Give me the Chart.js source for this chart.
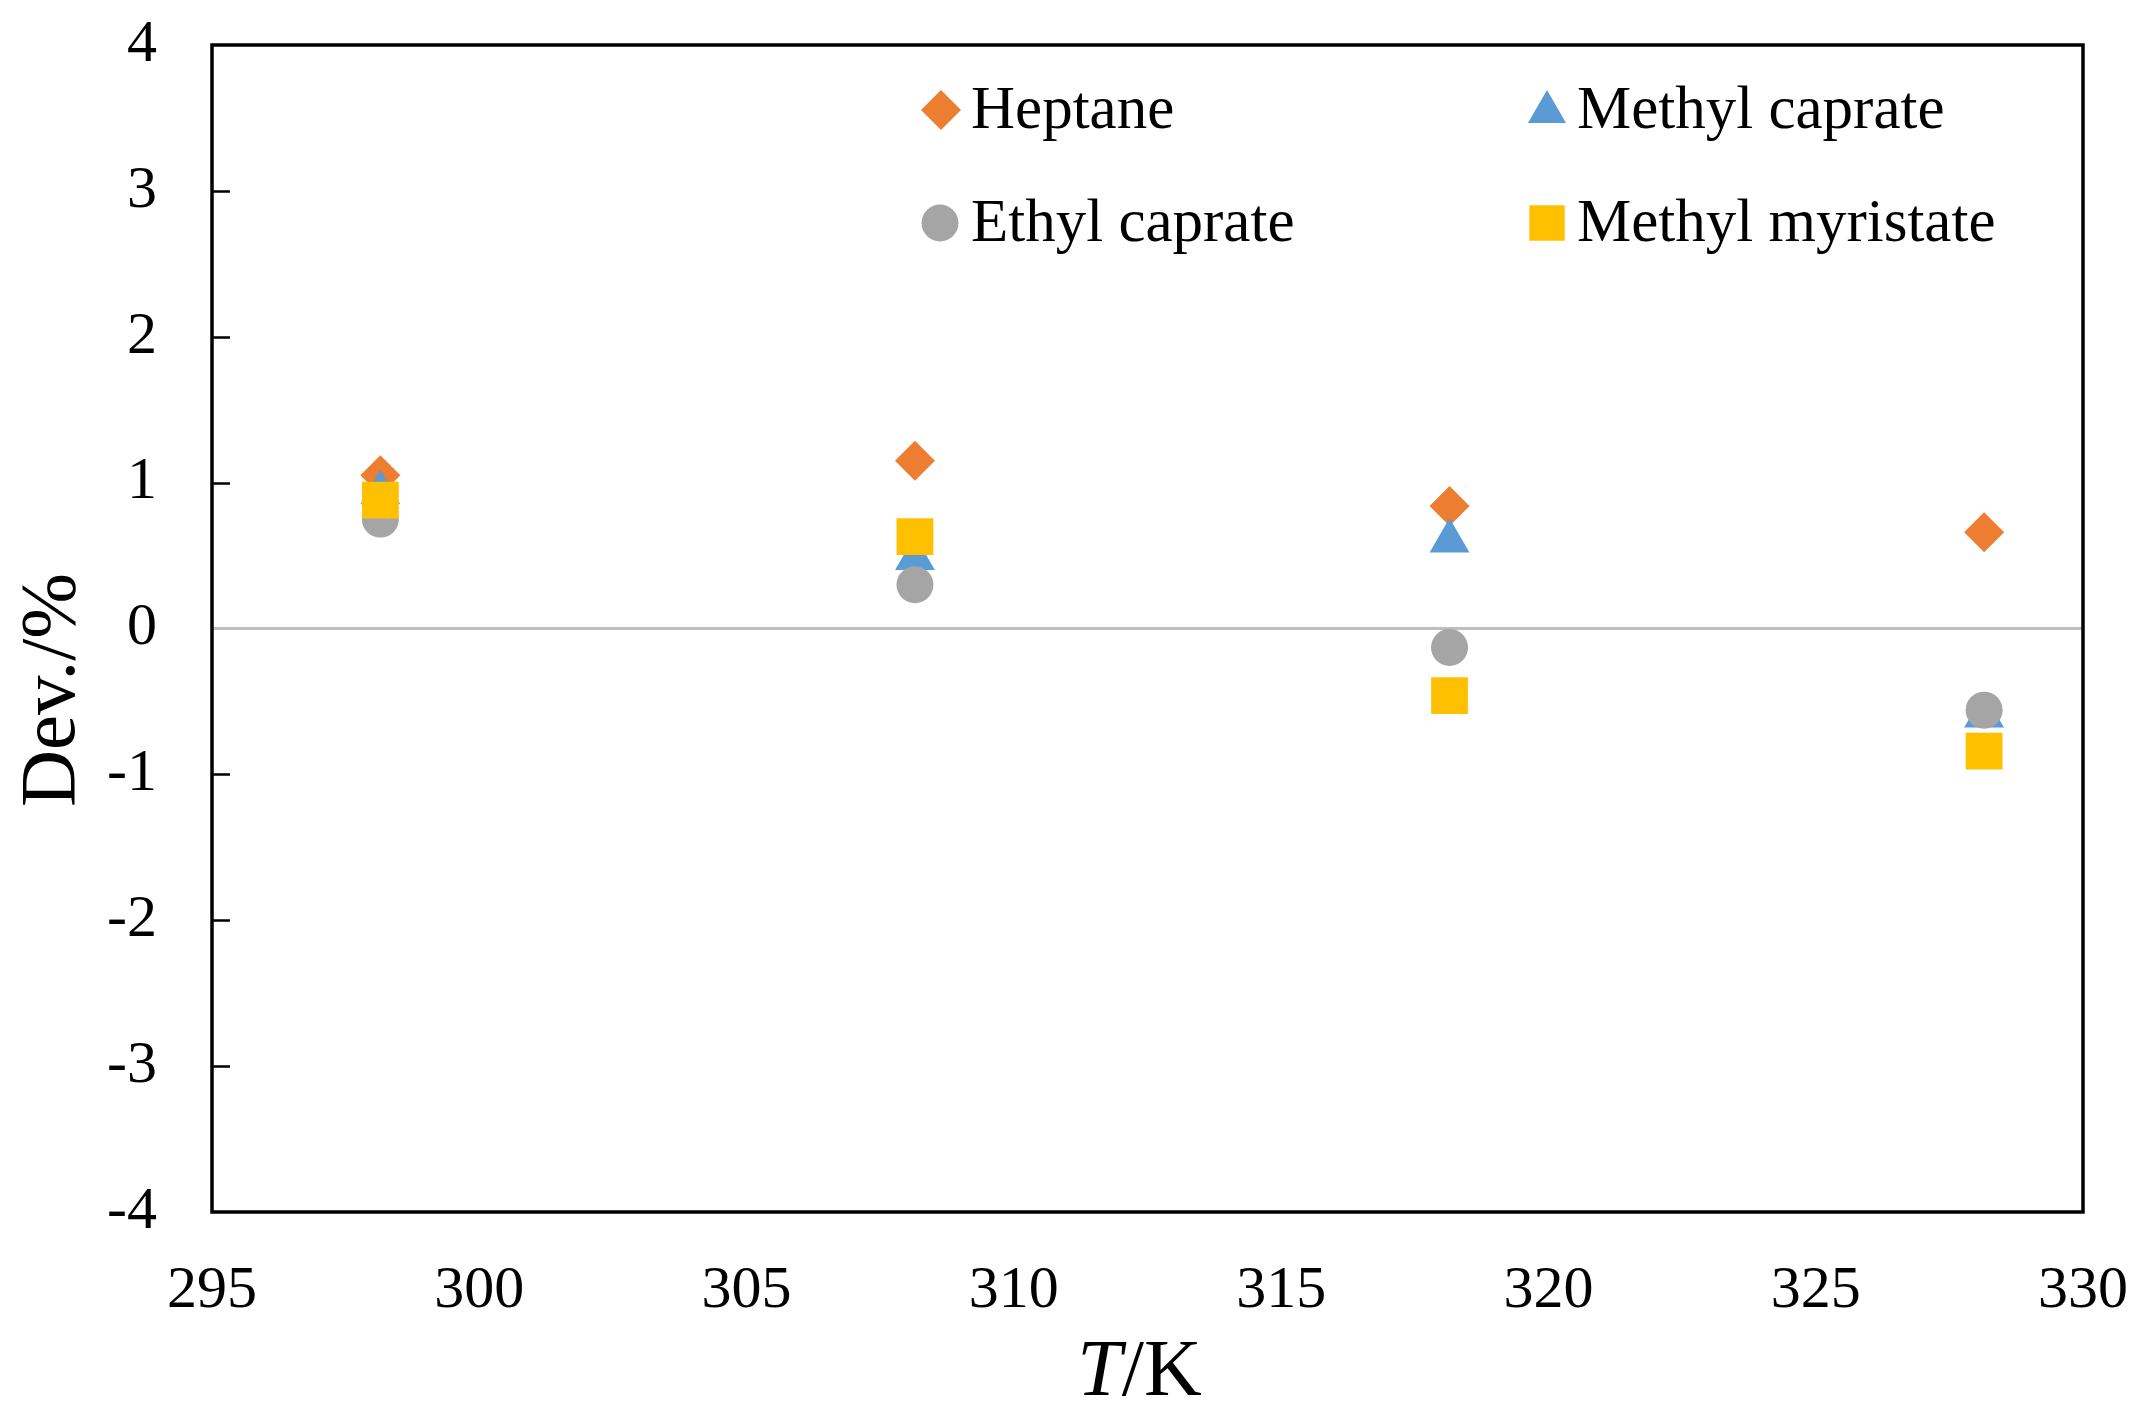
<!DOCTYPE html>
<html>
<head>
<meta charset="utf-8">
<script src="https://cdn.jsdelivr.net/npm/chart.js@4/dist/chart.umd.min.js"></script>
<style>
  html, body { margin: 0; padding: 0; background: #ffffff; }
  #wrap { width: 2147px; height: 1424px; position: relative; }
</style>
</head>
<body>
<div id="wrap"><canvas id="c"></canvas></div>
<script>
// ---- data ----
const temperatures = [298.15, 308.15, 318.15, 328.15];
const heptane = [1.05, 1.15, 0.84, 0.66];
const methylCaprate = [0.93, 0.48, 0.60, -0.60];
const ethylCaprate = [0.75, 0.30, -0.13, -0.56];
const methylMyristate = [0.88, 0.63, -0.46, -0.84];

const seriesNames = ['Heptane', 'Methyl caprate', 'Ethyl caprate', 'Methyl myristate'];
const xTicks = [295, 300, 305, 310, 315, 320, 325, 330];
const yTicks = [-4, -3, -2, -1, 0, 1, 2, 3, 4];
const xTitleItalic = 'T';
const xTitleRest = '/K';
const yTitle = 'Dev./%';

const SERIF = '"Liberation Serif", "Times New Roman", "DejaVu Serif", serif';

function pts(vals) { return temperatures.map((t, i) => ({ x: t, y: vals[i] })); }

const styles = [
  { color: '#ED7D31', pointStyle: 'rectRot', radius: 20 },
  { color: '#5B9BD5', pointStyle: 'triangle', radius: 23 },
  { color: '#A5A5A5', pointStyle: 'circle', radius: 18.5 },
  { color: '#FFC000', pointStyle: 'rect', radius: 26 }
];
const seriesValues = [heptane, methylCaprate, ethylCaprate, methylMyristate];

const datasets = seriesValues.map((vals, i) => ({
  label: seriesNames[i],
  data: pts(vals),
  pointStyle: styles[i].pointStyle,
  pointRadius: styles[i].radius,
  pointHoverRadius: styles[i].radius,
  backgroundColor: styles[i].color,
  borderColor: styles[i].color,
  borderWidth: 0,
  pointBorderWidth: 0,
  showLine: false,
  order: 4 - i
}));

const framePlugin = {
  id: 'frame',
  afterDraw(chart) {
    const { ctx, chartArea: a, scales } = chart;
    ctx.save();
    // inward tick marks on the y axis
    ctx.strokeStyle = '#000000';
    ctx.lineWidth = 2.5;
    yTicks.forEach(v => {
      if (v === 0 || v === yTicks[0] || v === yTicks[yTicks.length - 1]) return;
      const py = Math.round(scales.y.getPixelForValue(v)) + 0.5;
      ctx.beginPath();
      ctx.moveTo(a.left, py);
      ctx.lineTo(a.left + 18, py);
      ctx.stroke();
    });
    // plot frame
    ctx.lineWidth = 3.5;
    ctx.strokeRect(a.left, a.top, a.right - a.left, a.bottom - a.top);

    // x axis title: italic T + /K
    ctx.fillStyle = '#000000';
    ctx.textBaseline = 'alphabetic';
    const fs = 80;
    ctx.font = 'italic ' + fs + 'px ' + SERIF;
    const w1 = ctx.measureText(xTitleItalic).width;
    ctx.font = fs + 'px ' + SERIF;
    const w2 = ctx.measureText(xTitleRest).width;
    const cx = (a.left + a.right) / 2 - 8;
    const baseY = 1395;
    let sx = cx - (w1 + w2) / 2;
    ctx.font = 'italic ' + fs + 'px ' + SERIF;
    ctx.textAlign = 'left';
    ctx.fillText(xTitleItalic, sx, baseY);
    ctx.font = fs + 'px ' + SERIF;
    ctx.fillText(xTitleRest, sx + w1, baseY);

    // y axis title rotated
    ctx.save();
    ctx.translate(74, 690);
    ctx.rotate(-Math.PI / 2);
    ctx.font = '79px ' + SERIF;
    ctx.textAlign = 'center';
    ctx.fillText(yTitle, 0, 0);
    ctx.restore();

    // legend (2 x 2)
    const legendPos = [
      { mx: 941, my: 110, tx: 971, ty: 128 },
      { mx: 1547, my: 112, tx: 1577, ty: 128 },
      { mx: 940, my: 223, tx: 971, ty: 241 },
      { mx: 1547, my: 223, tx: 1577, ty: 241 }
    ];
    const legendMarkerRadius = [20, 22, 18.5, 25];
    legendPos.forEach((p, i) => {
      ctx.fillStyle = styles[i].color;
      Chart.helpers.drawPoint(ctx, {
        pointStyle: styles[i].pointStyle,
        radius: legendMarkerRadius[i],
        rotation: 0,
        borderWidth: 0
      }, p.mx, p.my);
      ctx.fillStyle = '#000000';
      ctx.font = '61px ' + SERIF;
      ctx.textAlign = 'left';
      ctx.textBaseline = 'alphabetic';
      ctx.fillText(seriesNames[i], p.tx, p.ty);
    });
    ctx.restore();
  }
};

new Chart(document.getElementById('c'), {
  type: 'scatter',
  data: { datasets },
  options: {
    responsive: true,
    maintainAspectRatio: false,
    animation: false,
    events: [],
    layout: { padding: { top: 45, right: 64, left: 0, bottom: 0 } },
    plugins: { legend: { display: false }, tooltip: { enabled: false } },
    scales: {
      x: {
        type: 'linear',
        min: xTicks[0],
        max: xTicks[xTicks.length - 1],
        afterBuildTicks(scale) { scale.ticks = xTicks.map(v => ({ value: v })); },
        afterFit(scale) {
          scale.height = 212;
          scale.paddingLeft = 0; scale.paddingRight = 0;
          scale.paddingTop = 0; scale.paddingBottom = 0;
        },
        grid: { display: false, drawTicks: false },
        border: { display: false },
        ticks: {
          padding: 43,
          color: '#000000',
          font: { family: SERIF, size: 60 },
          maxRotation: 0,
          autoSkip: false
        },
        title: { display: false }
      },
      y: {
        type: 'linear',
        min: yTicks[0],
        max: yTicks[yTicks.length - 1],
        afterBuildTicks(scale) { scale.ticks = yTicks.map(v => ({ value: v })); },
        afterFit(scale) {
          scale.width = 212;
          scale.paddingLeft = 0; scale.paddingRight = 0;
          scale.paddingTop = 0; scale.paddingBottom = 0;
        },
        grid: {
          drawTicks: false,
          lineWidth: 3,
          color: (c) => (c.tick && c.tick.value === 0) ? '#BFBFBF' : 'rgba(0,0,0,0)'
        },
        border: { display: false },
        ticks: {
          padding: 55,
          color: '#000000',
          font: { family: SERIF, size: 60 },
          autoSkip: false
        },
        title: { display: false }
      }
    }
  },
  plugins: [framePlugin]
});
</script>
</body>
</html>
